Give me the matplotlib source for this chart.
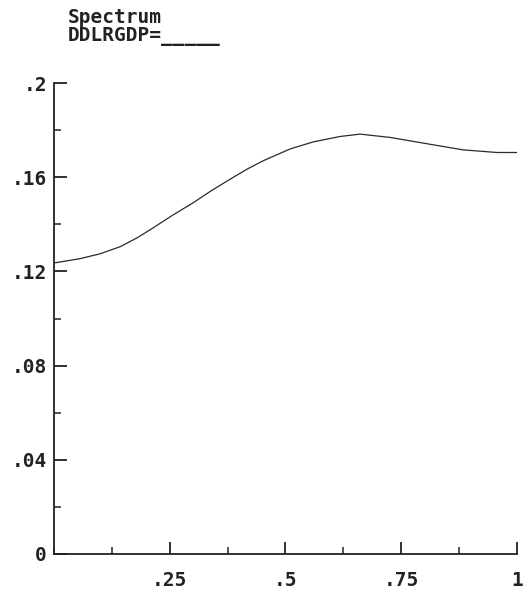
import matplotlib.pyplot as plt
from matplotlib.ticker import MultipleLocator

# frequency (fraction of pi) and spectrum values
freq = [0.0, 0.013, 0.056, 0.10, 0.143, 0.18, 0.215, 0.255, 0.301, 0.34, 0.38,
        0.415, 0.452, 0.51, 0.56, 0.618, 0.661, 0.726, 0.812, 0.884, 0.957, 1.0]
spectrum = [0.1236, 0.124, 0.1254, 0.1275, 0.1305, 0.1343, 0.1386, 0.1437, 0.1492,
            0.1543, 0.1591, 0.1632, 0.167, 0.172, 0.175, 0.1773, 0.1783, 0.1769,
            0.174, 0.1716, 0.1705, 0.1705]

xticks = [0.25, 0.5, 0.75, 1.0]
xtick_labels = ['.25', '.5', '.75', '1']
yticks = [0, 0.04, 0.08, 0.12, 0.16, 0.2]
ytick_labels = ['0', '.04', '.08', '.12', '.16', '.2']

plt.rcParams['font.family'] = ['DejaVu Sans Mono']

fig = plt.figure(figsize=(5.24, 5.96), dpi=100)
ax = fig.add_axes([0.103, 0.0705, 0.8836, 0.7902])

ax.plot(freq, spectrum, color='#2a2a2a', linewidth=0.9)

ax.set_xlim(0, 1)
ax.set_ylim(0, 0.2)
ax.set_xticks(xticks)
ax.set_xticklabels(xtick_labels)
ax.set_yticks(yticks)
ax.set_yticklabels(ytick_labels)
ax.xaxis.set_minor_locator(MultipleLocator(0.125))
ax.yaxis.set_minor_locator(MultipleLocator(0.02))

for side in ['top', 'right']:
    ax.spines[side].set_visible(False)
for side in ['left', 'bottom']:
    ax.spines[side].set_linewidth(1.3)
    ax.spines[side].set_color('#222222')

ax.tick_params(which='major', direction='in', length=9, width=1.3, color='#222222',
               labelsize=14)
ax.tick_params(which='minor', direction='in', length=5, width=1.1, color='#222222')
ax.tick_params(axis='x', which='major', pad=12)
ax.tick_params(axis='y', which='major', pad=5)
for lab in ax.get_xticklabels() + ax.get_yticklabels():
    lab.set_fontweight('bold')
    lab.set_color('#222222')

fig.text(68 / 524, 1 - 8 / 596, 'Spectrum\nDDLRGDP=_____', ha='left', va='top',
         fontsize=14, fontweight='bold', color='#222222', linespacing=0.95)

fig.savefig('out.png', dpi=100)
